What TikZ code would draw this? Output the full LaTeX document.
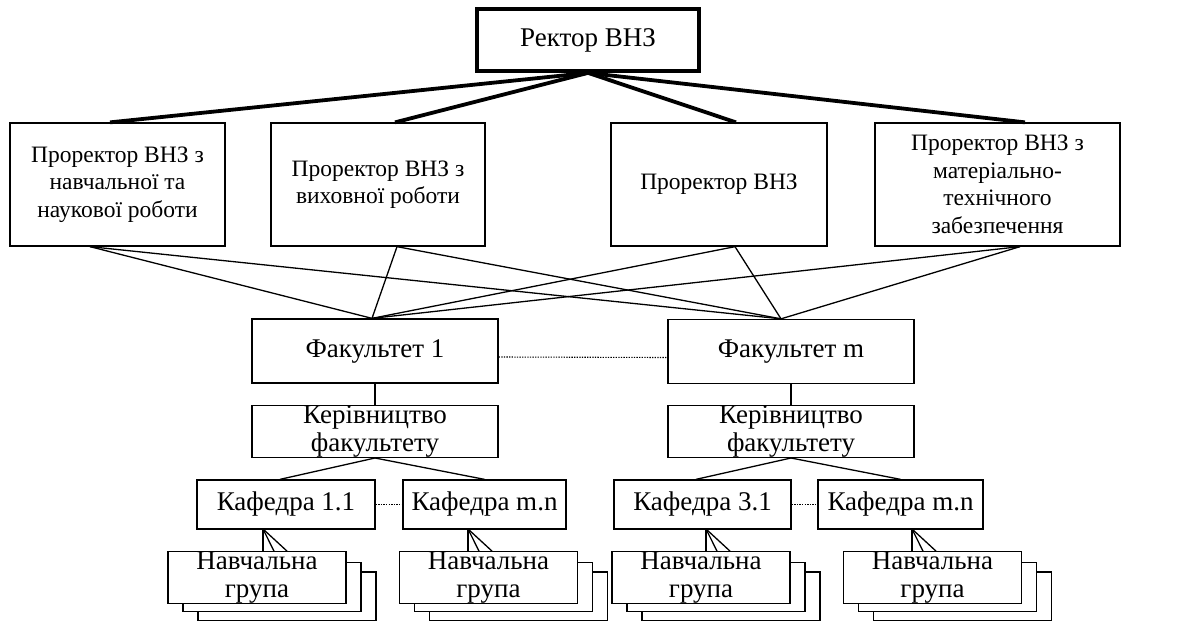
\documentclass[tikz,border=0pt]{standalone}
\usepackage{fontspec}
\setmainfont{Liberation Serif}
\usetikzlibrary{calc}
\begin{document}
\begin{tikzpicture}[x=1pt,y=-1pt,
  box/.style={draw,line width=1.3pt,fill=white,align=center,inner sep=0pt,
    minimum height=#1},
  box/.default=49pt,
  ptext/.style={font=\fontsize{23.5}{27.5}\selectfont},
  ltext/.style={font=\fontsize{27}{28}\selectfont},
  thick link/.style={line width=3.8pt},
  thin link/.style={line width=1.3pt},
  dots/.style={line width=1.1pt,dash pattern=on 1.3pt off 1.3pt}]
\useasboundingbox (0,0) rectangle (1194,621);

% rector
\node[box,line width=3.8pt,minimum width=222pt,minimum height=62pt,ltext] (rector) at (588,40) {Ректор ВНЗ};

% vice-rectors
\node[box=123pt,minimum width=215pt,ptext] (p1) at (117.5,184.5) {Проректор ВНЗ з\\навчальної та\\наукової роботи};
\node[box=123pt,minimum width=214pt,ptext] (p2) at (378,184.5) {Проректор ВНЗ з\\виховної роботи};
\node[box=123pt,minimum width=216pt,ptext] (p3) at (719,184.5) {Проректор ВНЗ};
\node[box=123pt,minimum width=245pt,ptext] (p4) at (997.5,184.5) {Проректор ВНЗ з\\матеріально-\\технічного\\забезпечення};

\foreach \p/\dx in {p1/-7.5,p2/17,p3/17,p4/27.5}
  \draw[thick link] (rector.south) -- ([xshift=\dx pt]\p.north);

% faculties
\node[box=64pt,minimum width=246pt,ltext] (f1) at (375,351) {Факультет 1};
\node[box=64pt,minimum width=246pt,ltext] (fm) at (791,351.5) {Факультет m};
\coordinate (f1t) at ([xshift=-3pt]f1.north);
\coordinate (fmt) at ([xshift=-10pt]fm.north);

\foreach \p/\dx in {p1/-27.5,p2/19,p3/16,p4/22.5}{
  \draw[thin link] ([xshift=\dx pt]\p.south) -- (f1t);
  \draw[thin link] ([xshift=\dx pt]\p.south) -- (fmt);
}
\draw[dots] ([yshift=-6pt]f1.east) -- ([yshift=-6pt]fm.west);

% faculty management
\node[box,minimum width=246pt,ltext] (k1) at (375,431.5) {Керівництво\\факультету};
\node[box,minimum width=246pt,ltext] (km) at (791,431.5) {Керівництво\\факультету};
\draw[thin link] (f1.south) -- (k1.north);
\draw[thin link] (fm.south) -- (km.north);

% departments
\node[box,minimum width=178pt,ltext] (c11) at (286,504.5) {Кафедра 1.1};
\node[box,minimum width=163pt,ltext] (c1n) at (484.5,504.5) {Кафедра m.n};
\node[box,minimum width=177pt,ltext] (c31) at (702.5,504.5) {Кафедра 3.1};
\node[box,minimum width=165pt,ltext] (cmn) at (900.5,504.5) {Кафедра m.n};
\draw[thin link] (k1.south) -- ([xshift=-6pt]c11.north);
\draw[thin link] (k1.south) -- (c1n.north);
\draw[thin link] (km.south) -- ([xshift=-6.5pt]c31.north);
\draw[thin link] (km.south) -- (cmn.north);
\draw[dots] (c11.east) -- (c1n.west);
\draw[dots] (c31.east) -- (cmn.west);

% study groups: three stacked sheets under each department
\foreach \n/\cx in {1/257,2/488.5,3/701,4/932.5}{
  \node[box,minimum width=178pt] (g\n c) at (\cx+30,596.5) {};
  \node[box,minimum width=178pt] (g\n b) at (\cx+15,587) {};
  \node[box,minimum width=178pt,ltext] (g\n) at (\cx,577.5) {Навчальна\\група};
}

% fan links from departments to the groups
\foreach \c/\g/\fx in {c11/g1/263,c1n/g2/468,c31/g3/706,cmn/g4/912}{
  \coordinate (\c fan) at (\fx,529);
  \coordinate (\g top) at (\c fan |- \g.north);
  \draw[thin link] (\c fan) -- (\g top);
  \draw[thin link] (\c fan) -- ($(\g top)+(11,0)$);
  \draw[thin link] (\c fan) -- ($(\g top)+(24,0)$);
}
\end{tikzpicture}
\end{document}
